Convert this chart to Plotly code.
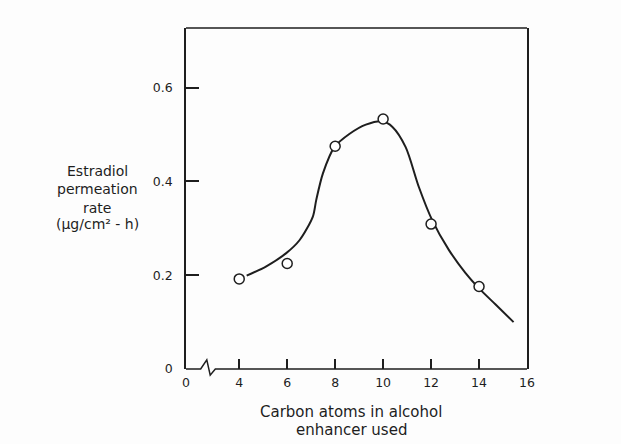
import plotly.graph_objects as go

# Measured permeation rates for alcohols of increasing chain length
carbon_atoms = [4, 6, 8, 10, 12, 14]
permeation_rate = [0.192, 0.225, 0.475, 0.533, 0.309, 0.176]

# Hand-fitted trend curve through the measurements
curve_x = [4.31, 5.13, 5.96, 6.52, 7.07, 7.21, 7.49, 7.97, 8.59, 9.28,
           9.97, 10.39, 10.94, 11.49, 12.04, 12.74, 13.43, 13.98, 14.68, 15.44]
curve_y = [0.199, 0.219, 0.247, 0.275, 0.325, 0.360, 0.417, 0.473, 0.501, 0.521,
           0.528, 0.516, 0.473, 0.388, 0.318, 0.254, 0.205, 0.173, 0.138, 0.100]

# Axis ticks (the x axis is broken between 0 and 4)
x_tickvals = [1.78, 4, 6, 8, 10, 12, 14, 16]
x_ticktext = ["0", "4", "6", "8", "10", "12", "14", "16"]
y_tickvals = [0, 0.2, 0.4, 0.6]
y_ticktext = ["0", "0.2", "0.4", "0.6"]

ink = "#1e1e1e"
font = "DejaVu Sans"

fig = go.Figure()
fig.add_trace(go.Scatter(
    x=curve_x, y=curve_y, mode="lines",
    line=dict(color=ink, width=2, shape="spline", smoothing=0.8),
    hoverinfo="skip", showlegend=False))
fig.add_trace(go.Scatter(
    x=carbon_atoms, y=permeation_rate, mode="markers",
    marker=dict(symbol="circle", size=10, color="white",
                line=dict(color=ink, width=1.5)),
    showlegend=False))

fig.update_layout(
    width=621, height=444,
    margin=dict(l=186, r=94, t=28, b=75),
    paper_bgcolor="#fdfdfd", plot_bgcolor="#fdfdfd",
    font=dict(family=font, size=12.5, color=ink),
    xaxis=dict(range=[1.78, 16], tickvals=x_tickvals, ticktext=x_ticktext,
               ticks="inside", ticklen=10, tickwidth=1.5, tickcolor=ink,
               showline=False, showgrid=False, zeroline=False,
               ticklabelstandoff=4),
    yaxis=dict(range=[0, 0.727], tickvals=y_tickvals, ticktext=y_ticktext,
               ticks="inside", ticklen=13, tickwidth=1.5, tickcolor=ink,
               showline=True, mirror=True, linecolor=ink, linewidth=1.5,
               showgrid=False, zeroline=False, ticklabelstandoff=9),
)

# Top border and the broken bottom axis
fig.add_shape(type="line", xref="paper", yref="paper", x0=0, x1=1, y0=1, y1=1,
              line=dict(color=ink, width=1.5))
fig.add_shape(type="path", xref="paper", yref="paper",
              path="M 0,0 L 0.043,0 L 0.061,0.027 L 0.071,-0.018 L 0.086,0 L 1,0",
              line=dict(color=ink, width=1.5))

# Axis titles
for text, ypx in [("Estradiol", 171), ("permeation", 189), ("rate", 208),
                  ("(μg/cm² - h)", 224)]:
    fig.add_annotation(text=text, xref="paper", yref="paper",
                       x=(97 - 186) / 341, y=(369 - ypx) / 341,
                       xanchor="center", yanchor="middle",
                       showarrow=False, font=dict(family=font, size=14, color=ink))
for text, ypx in [("Carbon atoms in alcohol", 412), ("enhancer used", 430)]:
    fig.add_annotation(text=text, xref="paper", yref="paper",
                       x=(351 - 186) / 341, y=(369 - ypx) / 341,
                       xanchor="center", yanchor="middle",
                       showarrow=False, font=dict(family=font, size=15, color=ink))

fig.write_html("out.html")
